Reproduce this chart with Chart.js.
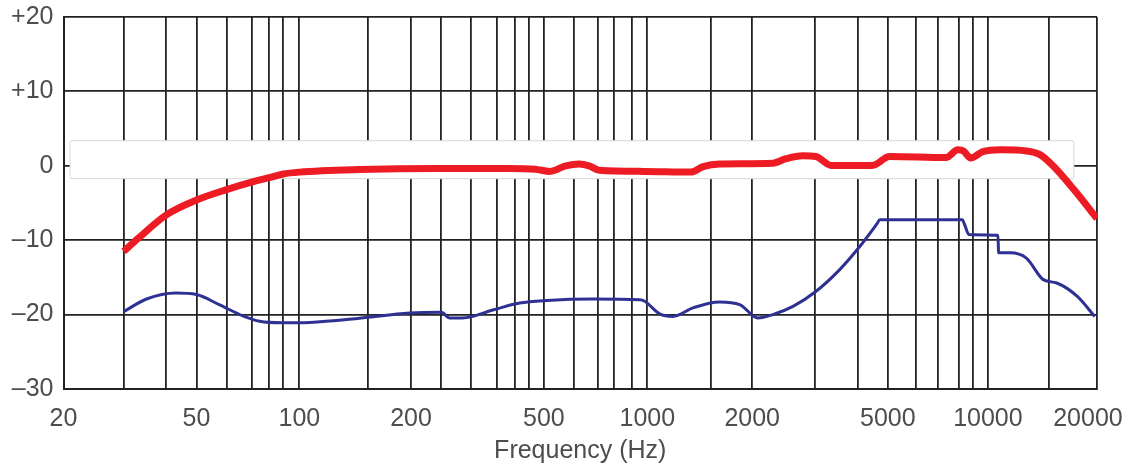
<!DOCTYPE html>
<html>
<head>
<meta charset="utf-8">
<script src="https://cdn.jsdelivr.net/npm/chart.js@4"></script>
<style>
  html, body { margin: 0; padding: 0; background: #fff; }
  #wrap { width: 1128px; height: 469px; position: relative; }
</style>
</head>
<body>
<div id="wrap"><canvas id="chart"></canvas></div>
<script>
'use strict';

// x axis (Hz, log) and y axis (dB)
let xMin = 20;
let xMax = 21150;
let gridFreqs = [30, 40, 49, 60, 71, 80, 88, 98, 155, 208, 255, 312, 370, 420, 460, 509, 623, 732, 816, 921, 1022,
  1572, 2072, 3154, 4224, 5168, 6230, 7242, 8342, 9167, 10140, 15292];
let labelFreqs = [20, 49, 98, 208, 509, 1022, 2072, 5168, 10140, 19900];
let labelTexts = ['20', '50', '100', '200', '500', '1000', '2000', '5000', '10000', '20000'];
let yTicks = [20, 10, 0, -10, -20, -30];
let yTickTexts = ['+20', '+10', '0', '–10', '–20', '–30'];

// red: on-axis response
let redFreq = [30, 33, 40, 49, 60, 71, 80, 88, 98, 147, 250, 400, 480, 530, 590, 646, 690, 740, 1000, 1372, 1488,
  1662, 2380, 2600, 2912, 3180, 3528, 4652, 5228, 7640, 8280, 8600, 9030, 9800, 11040, 13140, 14400, 15800, 18100, 21150];
let redDb = [-11.5, -9.8, -6.6, -4.6, -3.2, -2.2, -1.6, -1.1, -0.85, -0.5, -0.35, -0.35, -0.45, -0.75, 0.0, 0.25, 0.0,
  -0.6, -0.75, -0.85, -0.1, 0.25, 0.35, 0.95, 1.35, 1.25, 0.05, 0.05, 1.25, 1.1, 2.15, 2.0, 1.05, 1.9, 2.15, 2.0, 1.5,
  -0.1, -3.2, -7.1];

// blue: rear / off-axis response
let blueFreq = [30, 35, 42.7, 49, 57.3, 67.2, 75, 87.5, 105, 147, 206, 255, 270, 294, 363, 432, 520, 708, 972, 1004,
  1110, 1214, 1391, 1662, 1904, 2152, 2380, 2728, 3180, 3736, 4276, 4800, 4896, 8540, 8650, 8930, 10850, 10900, 11760,
  13140, 14730, 16120, 18520, 20830];
let blueDb = [-19.6, -17.9, -17.1, -17.3, -18.7, -20.2, -20.9, -21.1, -21.05, -20.5, -19.8, -19.7, -20.45, -20.45,
  -19.35, -18.45, -18.1, -17.9, -18.0, -18.2, -19.9, -20.25, -19.1, -18.3, -18.65, -20.45, -20.0, -18.9, -16.9, -13.95,
  -10.85, -7.8, -7.25, -7.25, -7.8, -9.25, -9.35, -11.7, -11.7, -12.4, -15.3, -15.75, -17.55, -20.25];

// white strip laid over the 0 dB line in the original
let stripFreq = [20.9, 18100];
let stripDb = [3.37, -1.73];

function toPoints(xs, ys) {
  let pts = [];
  for (let i = 0; i < xs.length; i++) {
    pts.push({ x: xs[i], y: ys[i] });
  }
  return pts;
}

let textColor = '#4d4d4d';
let lineColor = '#222222';

let stripPlugin = {
  id: 'strip',
  beforeDatasetsDraw(chart) {
    let ctx = chart.ctx;
    let xs = chart.scales.x;
    let ys = chart.scales.y;
    let x0 = xs.getPixelForValue(stripFreq[0]);
    let x1 = xs.getPixelForValue(stripFreq[1]);
    let y0 = ys.getPixelForValue(stripDb[0]);
    let y1 = ys.getPixelForValue(stripDb[1]);
    ctx.save();
    ctx.fillStyle = '#ffffff';
    ctx.strokeStyle = '#d6d6d6';
    ctx.lineWidth = 1;
    ctx.beginPath();
    ctx.roundRect(x0, y0, x1 - x0, y1 - y0, 2);
    ctx.fill();
    ctx.stroke();
    ctx.restore();
  }
};

let allXTicks = [...new Set(gridFreqs.concat(labelFreqs, [xMax]))].sort((a, b) => a - b);

let chartObj = {
  type: 'line',
  data: {
    datasets: [
      {
        data: toPoints(redFreq, redDb),
        borderColor: '#ed1c24',
        borderWidth: 7,
        pointRadius: 0,
        cubicInterpolationMode: 'monotone',
        fill: false
      },
      {
        data: toPoints(blueFreq, blueDb),
        borderColor: '#2e3192',
        borderWidth: 3,
        pointRadius: 0,
        cubicInterpolationMode: 'monotone',
        fill: false
      }
    ]
  },
  options: {
    responsive: true,
    maintainAspectRatio: false,
    animation: false,
    layout: { padding: { top: 17, right: 31, left: 0, bottom: 0 } },
    plugins: { legend: { display: false }, tooltip: { enabled: false } },
    scales: {
      x: {
        type: 'logarithmic',
        min: xMin,
        max: xMax,
        afterBuildTicks(scale) {
          scale.ticks = allXTicks.map(v => ({ value: v }));
        },
        afterFit(scale) {
          scale.height = 80;
          scale.paddingLeft = 0;
          scale.paddingRight = 0;
        },
        border: { display: true, color: lineColor, width: 2 },
        grid: {
          drawTicks: false,
          lineWidth: 1.8,
          color(ctx) {
            let v = ctx.tick ? ctx.tick.value : null;
            if (gridFreqs.includes(v) || v === xMax) return lineColor;
            return 'rgba(0,0,0,0)';
          }
        },
        ticks: {
          autoSkip: false,
          maxRotation: 0,
          minRotation: 0,
          padding: 15,
          color: textColor,
          font: { family: 'Liberation Sans', size: 25 },
          callback(value) {
            let i = labelFreqs.indexOf(value);
            return i >= 0 ? labelTexts[i] : '';
          }
        },
        title: {
          display: true,
          text: 'Frequency (Hz)',
          color: textColor,
          font: { family: 'Liberation Sans', size: 25 },
          padding: { top: 0, bottom: 3 }
        }
      },
      y: {
        min: -30,
        max: 20,
        afterBuildTicks(scale) {
          scale.ticks = yTicks.map(v => ({ value: v }));
        },
        afterFit(scale) {
          scale.width = 63.5;
          scale.paddingTop = 0;
          scale.paddingBottom = 0;
        },
        border: { display: true, color: lineColor, width: 2 },
        grid: { drawTicks: false, lineWidth: 1.8, color: lineColor },
        ticks: {
          padding: 10,
          color: textColor,
          font: { family: 'Liberation Sans', size: 25 },
          callback(value) {
            let i = yTicks.indexOf(value);
            return i >= 0 ? yTickTexts[i] : '';
          }
        }
      }
    }
  },
  plugins: [stripPlugin]
};

new Chart(document.getElementById('chart'), chartObj);
</script>
</body>
</html>
